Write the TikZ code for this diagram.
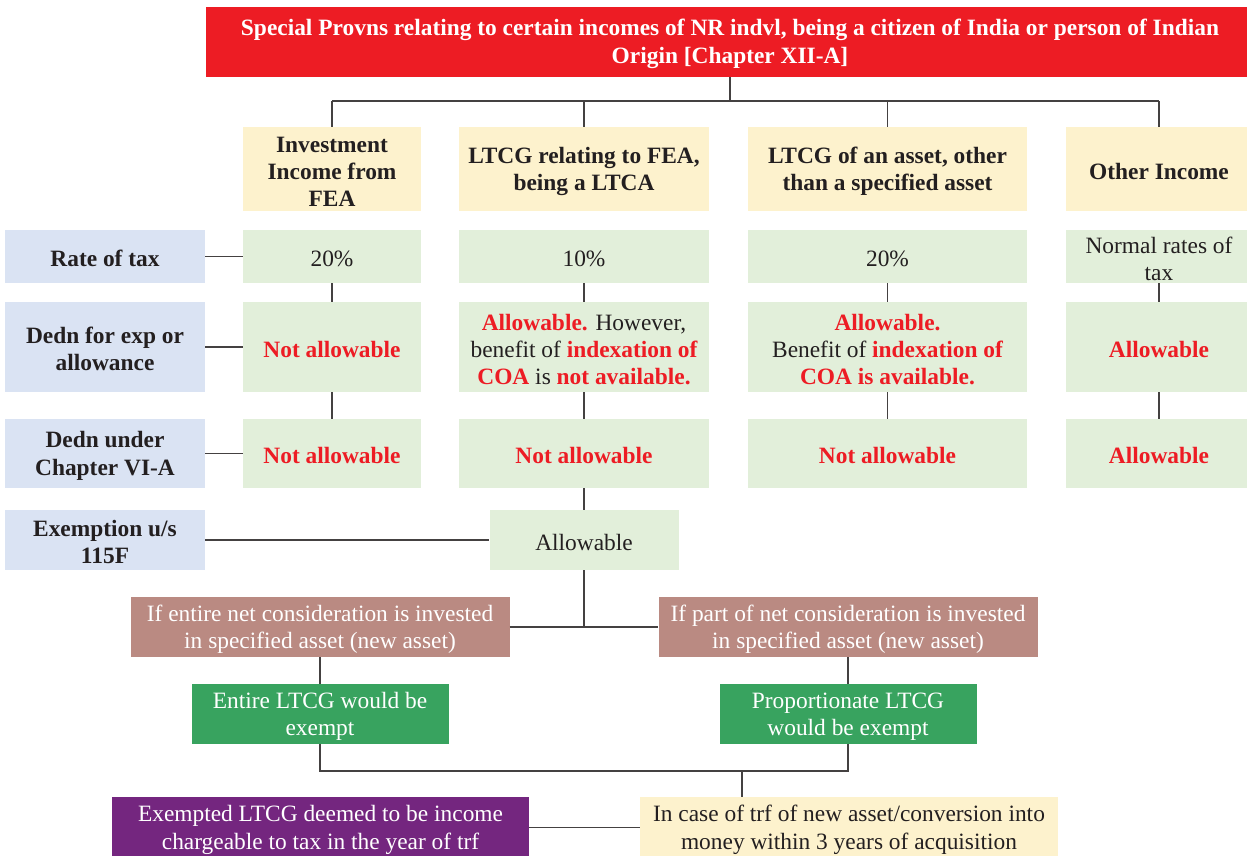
\documentclass[tikz,border=0pt]{standalone}
\usepackage{fontspec}
\setmainfont{Liberation Serif}
\definecolor{tred}{HTML}{ED1C24}
\definecolor{ink}{HTML}{231F20}
\definecolor{hdrY}{HTML}{FDF2CD}
\definecolor{lblB}{HTML}{DAE3F3}
\definecolor{cellG}{HTML}{E2EFDA}
\definecolor{brownB}{HTML}{BA8A82}
\definecolor{greenB}{HTML}{38A35F}
\definecolor{purpB}{HTML}{74267F}
\newcommand\redbf[1]{\textcolor{tred}{\bfseries #1}}
\newcommand\txtsize{\fontsize{23.4}{27.2}\selectfont}
% strut on the first line of each text block, to sit the text a little lower
\newcommand\tf{\rule{0pt}{21pt}}
\tikzset{
  base/.style={inner sep=0pt, align=center, text=ink, font=\txtsize},
  titlebox/.style={base, fill=tred, text=white, font=\fontsize{23.4}{28}\selectfont\bfseries},
  hdr/.style={base, fill=hdrY, font=\txtsize\bfseries, minimum height=84pt},
  lbl/.style={base, fill=lblB, font=\txtsize\bfseries, minimum width=200pt},
  cell/.style={base, fill=cellG},
  brownbox/.style={base, fill=brownB, text=white, minimum width=379pt, minimum height=60pt},
  greenbox/.style={base, fill=greenB, text=white, minimum width=257pt, minimum height=60pt},
  conn/.style={draw=ink!85, line width=1.3pt},
}
\begin{document}
\begin{tikzpicture}[x=1pt, y=-1pt]
\useasboundingbox (0,0) rectangle (1247,855);

% title
\node[titlebox, minimum width=1048pt, minimum height=70pt] (title) at (730,42)
  {\tf Special Provns relating to certain incomes of NR indvl, being a citizen of India or person of Indian\\Origin [Chapter XII-A]};

% column headers
\node[hdr, minimum width=178pt] (h1) at (332,169) {\tf Investment\\Income from\\FEA};
\node[hdr, minimum width=250pt] (h2) at (584,169) {\tf LTCG relating to FEA,\\being a LTCA};
\node[hdr, minimum width=279pt] (h3) at (887.5,169) {\tf LTCG of an asset, other\\than a specified asset};
\node[hdr, minimum width=186pt] (h4) at (1159,169) {\tf Other Income};

% row labels
\node[lbl, minimum height=53pt] (l1) at (105,256.5) {\tf Rate of tax};
\node[lbl, minimum height=90pt] (l2) at (105,347) {\tf Dedn for exp or\\allowance};
\node[lbl, minimum height=69pt] (l3) at (105,453.5) {\tf Dedn under\\Chapter VI-A};
\node[lbl, minimum height=60pt] (l4) at (105,540) {\tf Exemption u/s\\115F};

% cells: rate of tax
\node[cell, minimum width=178pt, minimum height=53pt] (c11) at (332,256.5) {\tf 20\%};
\node[cell, minimum width=250pt, minimum height=53pt] (c21) at (584,256.5) {\tf 10\%};
\node[cell, minimum width=279pt, minimum height=53pt] (c31) at (887.5,256.5) {\tf 20\%};
\node[cell, minimum width=186pt, minimum height=53pt] (c41) at (1159,256.5) {\tf Normal rates of\\tax};

% cells: deduction for expenditure
\node[cell, minimum width=178pt, minimum height=90pt] (c12) at (332,347) {\tf\redbf{Not allowable}};
\node[cell, minimum width=250pt, minimum height=90pt] (c22) at (584,347)
  {\tf\redbf{Allowable.} However,\\benefit of \redbf{indexation of}\\\redbf{COA} is \redbf{not available.}};
\node[cell, minimum width=279pt, minimum height=90pt] (c32) at (887.5,347)
  {\tf\redbf{Allowable.}\\Benefit of \redbf{indexation of}\\\redbf{COA is available.}};
\node[cell, minimum width=186pt, minimum height=90pt] (c42) at (1159,347) {\tf\redbf{Allowable}};

% cells: chapter VI-A
\node[cell, minimum width=178pt, minimum height=69pt] (c13) at (332,453.5) {\tf\redbf{Not allowable}};
\node[cell, minimum width=250pt, minimum height=69pt] (c23) at (584,453.5) {\tf\redbf{Not allowable}};
\node[cell, minimum width=279pt, minimum height=69pt] (c33) at (887.5,453.5) {\tf\redbf{Not allowable}};
\node[cell, minimum width=186pt, minimum height=69pt] (c43) at (1159,453.5) {\tf\redbf{Allowable}};

% exemption u/s 115F
\node[cell, minimum width=189pt, minimum height=60pt] (ex) at (584,540) {\tf Allowable};

% investment branches
\node[brownbox] (b1) at (320,627) {\tf If entire net consideration is invested\\in specified asset (new asset)};
\node[brownbox] (b2) at (848,627) {\tf If part of net consideration is invested\\in specified asset (new asset)};
\node[greenbox] (g1) at (320,714) {\tf Entire LTCG would be\\exempt};
\node[greenbox] (g2) at (848,714) {\tf Proportionate LTCG\\would be exempt};

% transfer within 3 years
\node[base, fill=hdrY, minimum width=418pt, minimum height=61pt] (yb) at (849,827.5)
  {\tf In case of trf of new asset/conversion into\\money within 3 years of acquisition};
\node[base, fill=purpB, text=white, minimum width=417pt, minimum height=61pt] (pu) at (320.5,827.5)
  {\tf Exempted LTCG deemed to be income\\chargeable to tax in the year of trf};

% connectors
\coordinate (bus) at (0,101);
\coordinate (join) at (742,771);
\draw[conn] (title.south) -- (title.south |- bus);
\draw[conn] (h1.north |- bus) -- (h4.north |- bus);
\foreach \h in {h1,h2,h3,h4} \draw[conn] (\h.north) -- (\h.north |- bus);
\foreach \c in {1,2,3,4} {
  \draw[conn] (c\c1.south) -- (c\c2.north);
  \draw[conn] (c\c2.south) -- (c\c3.north);
}
\draw[conn] (l1.east) -- (c11.west);
\draw[conn] (l2.east) -- (c12.west);
\draw[conn] (l3.east) -- (c13.west);
\draw[conn] (l4.east) -- (ex.west);
\draw[conn] (c23.south) -- (ex.north);
\draw[conn] (ex.south) -- (ex.south |- b1.east);
\draw[conn] (b1.east) -- (b2.west);
\draw[conn] (b1.south) -- (g1.north);
\draw[conn] (b2.south) -- (g2.north);
\draw[conn] (g1.south) |- (join) -| (g2.south);
\draw[conn] (join) -- (join |- yb.north);
\draw[conn] (pu.east) -- (yb.west);
\end{tikzpicture}
\end{document}
